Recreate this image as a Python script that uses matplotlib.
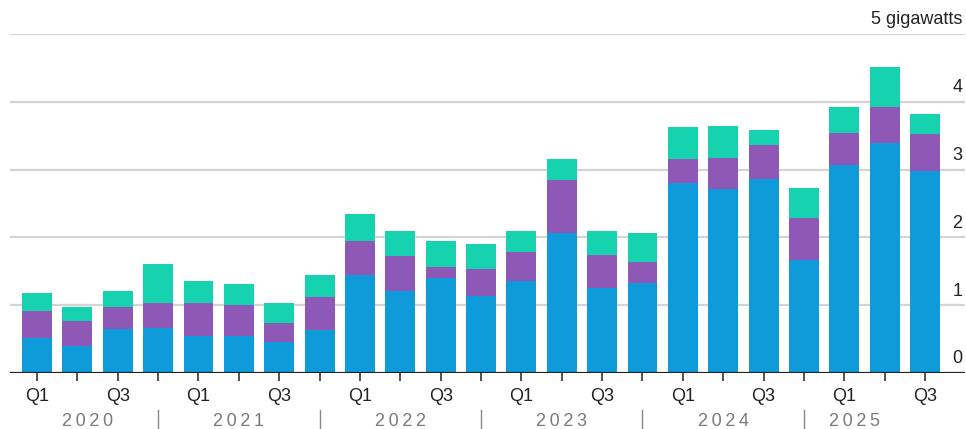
import matplotlib.pyplot as plt
import matplotlib.transforms as mtransforms

# quarterly additions, gigawatts (2020 Q1 .. 2025 Q3)
quarters = ['Q1', 'Q2', 'Q3', 'Q4'] * 5 + ['Q1', 'Q2', 'Q3']
years = ['2020', '2021', '2022', '2023', '2024', '2025']
blue_vals = [0.51, 0.40, 0.65, 0.66, 0.55, 0.54, 0.46, 0.63,
             1.45, 1.21, 1.40, 1.14, 1.35, 2.07, 1.26, 1.33,
             2.80, 2.72, 2.86, 1.66, 3.07, 3.39, 2.98]
purple_vals = [0.41, 0.37, 0.33, 0.37, 0.48, 0.46, 0.28, 0.49,
               0.50, 0.52, 0.17, 0.39, 0.43, 0.77, 0.48, 0.31,
               0.35, 0.45, 0.51, 0.63, 0.47, 0.54, 0.55]
teal_vals = [0.26, 0.21, 0.23, 0.58, 0.32, 0.32, 0.29, 0.33,
             0.39, 0.37, 0.38, 0.38, 0.32, 0.31, 0.35, 0.42,
             0.48, 0.47, 0.22, 0.44, 0.38, 0.59, 0.29]
y_ticks = [0, 1, 2, 3, 4]

BLUE = '#0f9ad9'
PURPLE = '#8e58b6'
TEAL = '#17d2af'

plt.rcParams['font.family'] = ['Liberation Sans', 'DejaVu Sans']

fig = plt.figure(figsize=(9.66, 4.29), dpi=100)
ax = fig.add_axes([10 / 966, 56 / 429, 955 / 966, 339 / 429])

x = list(range(len(blue_vals)))
bottom2 = [b + p for b, p in zip(blue_vals, purple_vals)]
ax.bar(x, blue_vals, width=0.74, color=BLUE, zorder=3)
ax.bar(x, purple_vals, width=0.74, bottom=blue_vals, color=PURPLE, zorder=3)
ax.bar(x, teal_vals, width=0.74, bottom=bottom2, color=TEAL, zorder=3)

ax.set_xlim(-0.67, 22.99)
ax.set_ylim(0, 5)

# gridlines and right-hand labels sitting above the lines
for v in y_ticks[1:] + [5]:
    ax.axhline(v, color='#d4d4d4', lw=1.6, zorder=1)
for v in y_ticks:
    ax.annotate(str(v), xy=(1, v), xycoords=('axes fraction', 'data'),
                xytext=(-2, 4), textcoords='offset points',
                ha='right', va='bottom', fontsize=13, color='#222222')
ax.annotate('5 gigawatts', xy=(1, 5), xycoords=('axes fraction', 'data'),
            xytext=(-2, 4), textcoords='offset points',
            ha='right', va='bottom', fontsize=13, color='#222222')
ax.axhline(0, color='#222222', lw=1.6, zorder=4)

for s in ax.spines.values():
    s.set_visible(False)
ax.set_yticks([])

ax.set_xticks(x)
ax.set_xticklabels([q if q in ('Q1', 'Q3') else '' for q in quarters],
                   fontsize=13, color='#222222')
ax.tick_params(axis='x', length=5.5, width=1.2, color='#333333', pad=5)

# year labels and separators
trans = mtransforms.blended_transform_factory(ax.transData, ax.transAxes)
year_x = [1.25, 5, 9, 13, 17, 20.25]
for yx, yr in zip(year_x, years):
    ax.text(yx, -0.142, '\u2009'.join(yr), transform=trans, ha='center',
            va='center', fontsize=13, color='#7a7a7a')
for i in range(len(years) - 1):
    sx = 4 * i + 3
    ax.plot([sx, sx], [-0.11, -0.165], transform=trans, color='#888888',
            lw=1.0, clip_on=False)

fig.savefig('out.png', dpi=100)
